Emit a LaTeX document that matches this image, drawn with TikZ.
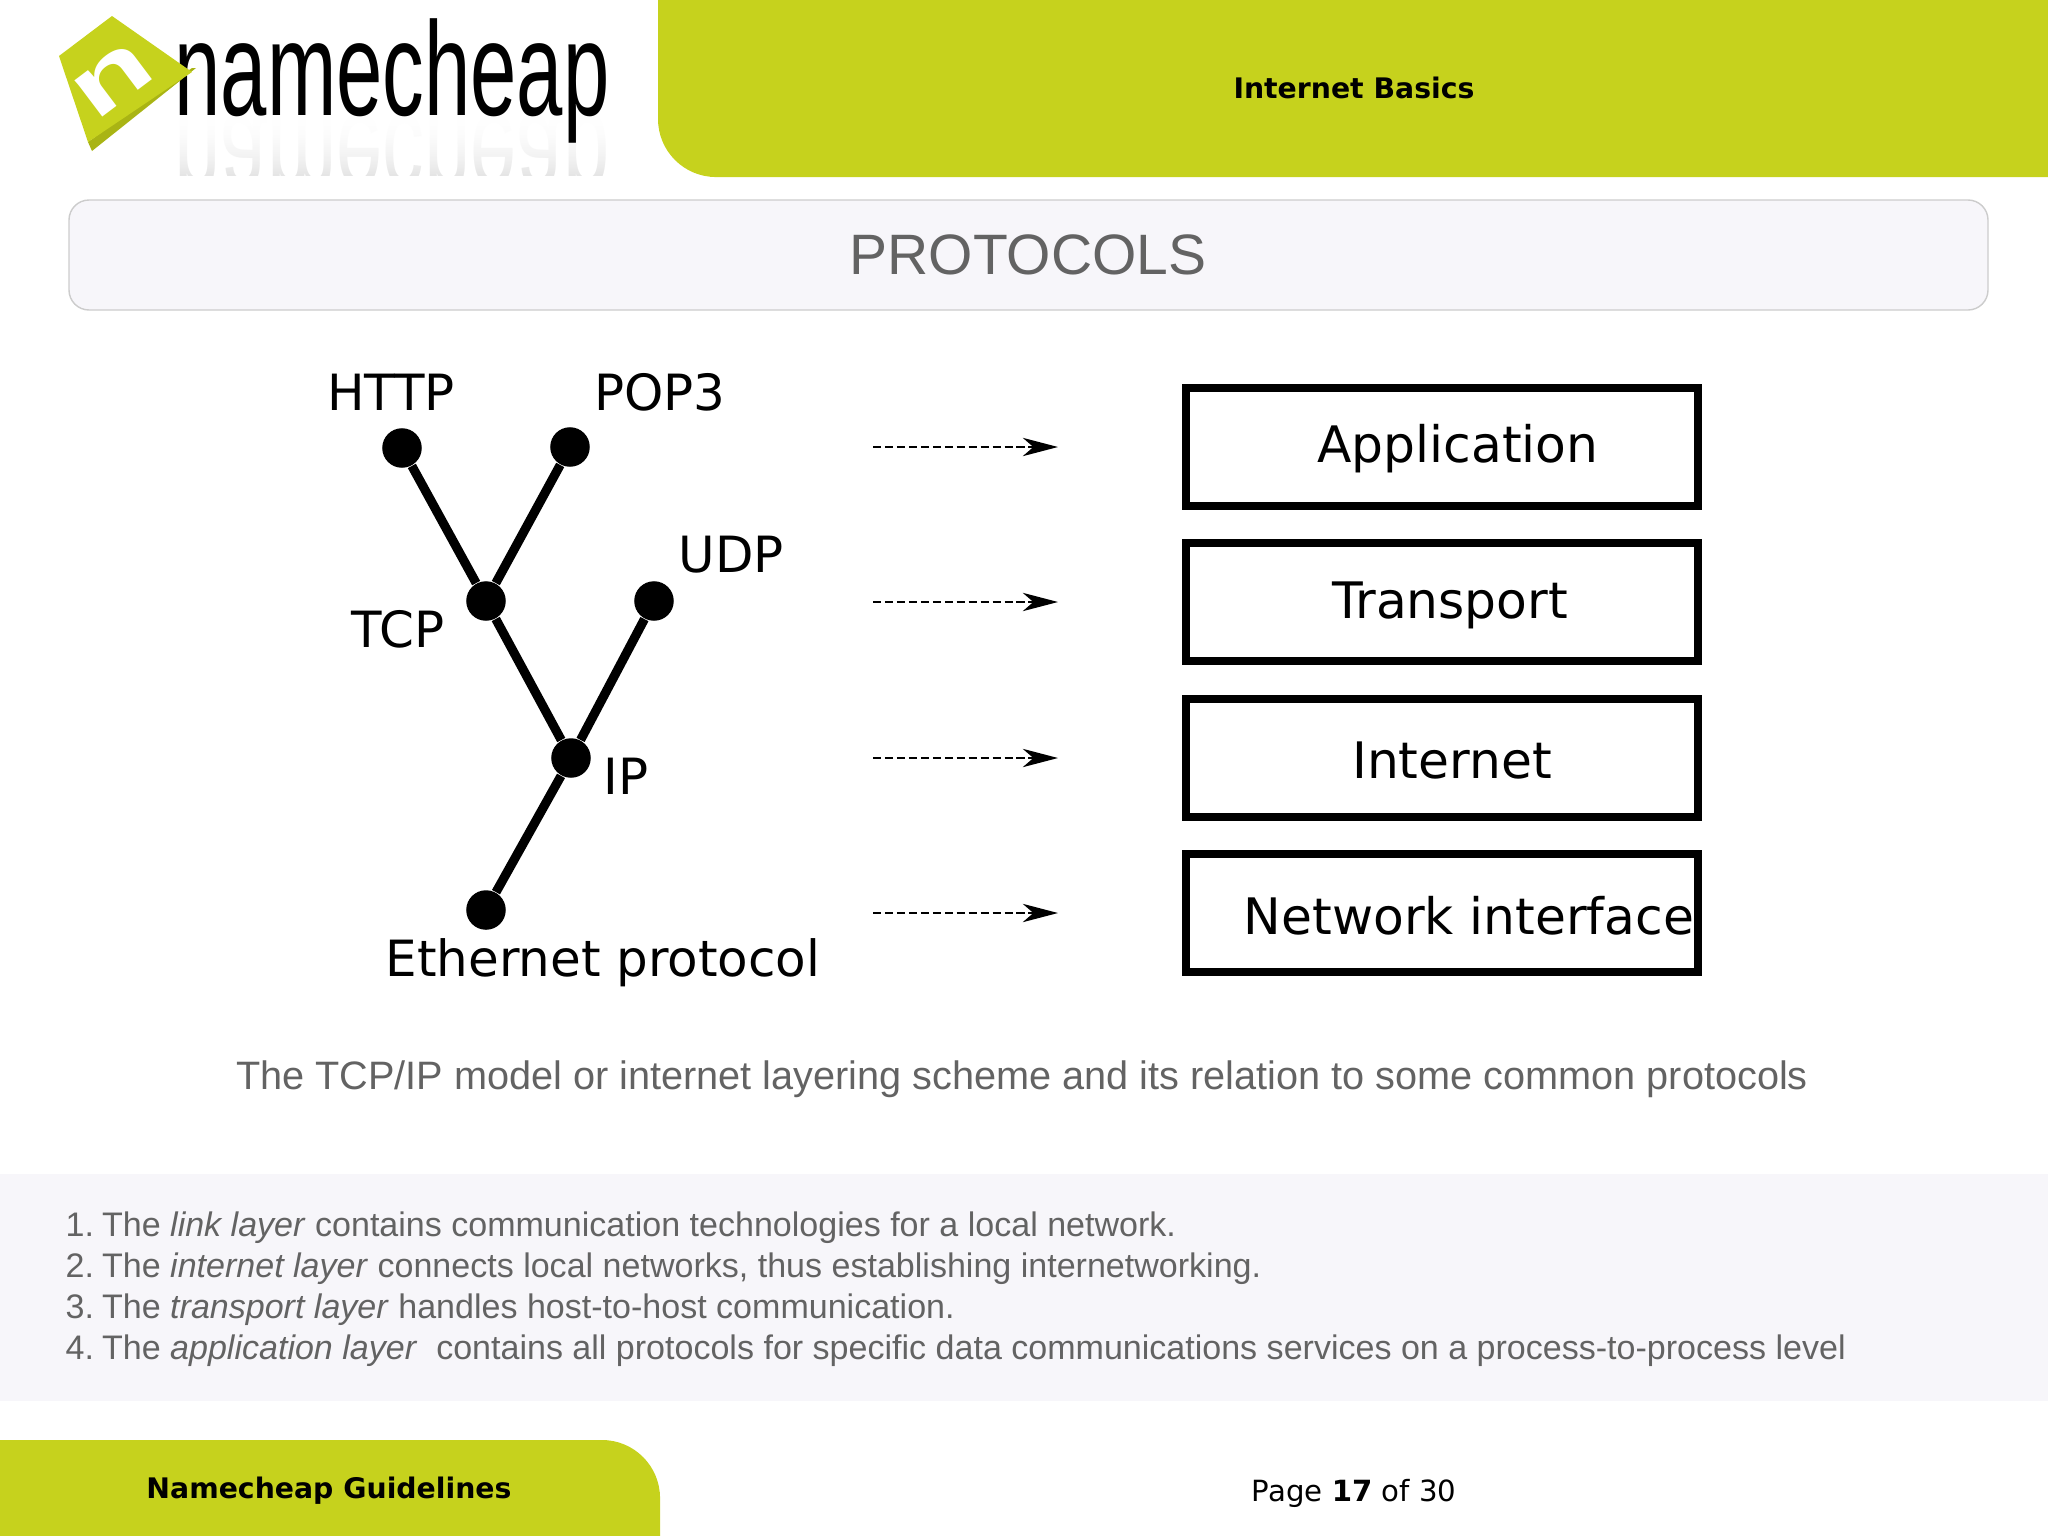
\documentclass[tikz,border=0pt]{standalone}
\usepackage{fontspec}
\setmainfont{Liberation Sans}
\newfontfamily\dejavu{DejaVu Sans}
\usetikzlibrary{arrows.meta,fadings}
\definecolor{leaf}{HTML}{C6D21D}
\definecolor{leafdark}{HTML}{A9B414}
\definecolor{panel}{HTML}{F7F6FA}
\definecolor{slate}{HTML}{636363}
\tikzset{
    dotnode/.style={circle, fill=black, minimum size=0.395cm, inner sep=0pt},
    treeline/.style={line width=2.6pt},
    treetext/.style={font=\dejavu\fontsize{14.2}{16}\selectfont, inner sep=0pt},
    layerbox/.style={draw, line width=2.4pt, minimum width=5.12cm, minimum height=1.18cm, inner sep=0pt},
    layertext/.style={font=\dejavu\fontsize{14.3}{16}\selectfont, inner sep=0pt},
    layerarrow/.style={line width=0.7pt, dash pattern=on 2.4pt off 1pt, -{Stealth[length=10pt, width=5.2pt, inset=3pt]}},
    bodytext/.style={font=\fontsize{9.68}{12}\selectfont, text=slate, inner sep=0pt, anchor=base west},
    headtext/.style={font=\dejavu\bfseries\fontsize{8.05}{10}\selectfont, inner sep=0pt}
}

\begin{document}
\begin{tikzpicture}[x=0.01cm, y=-0.01cm]
    \useasboundingbox (0, 0) rectangle (2048, 1536);

    % header and footer
    \fill [leaf] (658, 0) -- (658, 119) arc [start angle=180, end angle=270, radius=0.58cm] -- (2048, 177) -- (2048, 0) -- cycle;
    \fill [leaf] (0, 1440) -- (602, 1440) arc [start angle=90, end angle=0, radius=0.58cm] -- (660, 1536) -- (0, 1536) -- cycle;
    \node [headtext] (basics) at (1354, 88) {Internet Basics};
    \node [headtext] (guide) at (329, 1491) {Namecheap Guidelines};
    \node [font=\dejavu\fontsize{8.3}{10}\selectfont, inner sep=0pt] (page) at (1354, 1493) {Page \textbf{17} of 30};

    % logo
    \node [anchor=base west, inner sep=0pt, xscale=0.623, yscale=-1, text=black!10, font=\fontsize{38}{40}\selectfont] (mirror) at (174, 115) {namecheap};
    \fill [white, path fading=south] (170, 113) rectangle (620, 176);
    \fill [white, path fading=south] (170, 113) rectangle (620, 176);
    \fill [white] (170, 176) rectangle (620, 200);
    \node [anchor=base west, inner sep=0pt, xscale=0.623, font=\fontsize{38}{40}\selectfont] (brand) at (174, 115) {namecheap};
    \fill [leafdark] (192, 68) -- (196, 68) -- (92, 151) -- (88, 142) -- cycle;
    \fill [leaf] (112, 16) -- (192, 72) -- (88, 142) -- (59, 56) -- cycle;
    \node [white, rotate=37, xscale=1.5, font=\bfseries\fontsize{24.6}{25}\selectfont, inner sep=0pt] (mark) at (113, 80) {n};

    % title
    \draw [draw=black!20, fill=panel, rounded corners=0.2cm, line width=0.4pt] (69, 200) rectangle (1988, 310);
    \node [text=slate, font=\fontsize{16.2}{18}\selectfont, inner sep=0pt] (title) at (1028, 255) {PROTOCOLS};

    % tree
    \node [dotnode] (http) at (402, 448) {};
    \node [dotnode] (pop) at (570, 447) {};
    \node [dotnode] (tcp) at (486, 601) {};
    \node [dotnode] (udp) at (654, 601) {};
    \node [dotnode] (ip) at (571, 758) {};
    \node [dotnode] (eth) at (486, 910) {};
    \draw [treeline] (http) -- (tcp);
    \draw [treeline] (pop) -- (tcp);
    \draw [treeline] (tcp) -- (ip);
    \draw [treeline] (udp) -- (ip);
    \draw [treeline] (ip) -- (eth);
    \node [treetext] (httptext) at (391, 392) {HTTP};
    \node [treetext] (poptext) at (660, 392) {POP3};
    \node [treetext] (udptext) at (731, 555) {UDP};
    \node [treetext] (tcptext) at (398, 629) {TCP};
    \node [treetext] (iptext) at (626, 776) {IP};
    \node [treetext] (ethtext) at (603, 963) {Ethernet protocol};

    % arrows
    \coordinate (appfrom) at (873, 447);
    \coordinate (appto) at (1058, 447);
    \coordinate (trafrom) at (873, 602);
    \coordinate (trato) at (1058, 602);
    \coordinate (intfrom) at (873, 758);
    \coordinate (intto) at (1058, 758);
    \coordinate (netfrom) at (873, 913);
    \coordinate (netto) at (1058, 913);
    \draw [layerarrow] (appfrom) -- (appto);
    \draw [layerarrow] (trafrom) -- (trato);
    \draw [layerarrow] (intfrom) -- (intto);
    \draw [layerarrow] (netfrom) -- (netto);

    % layers
    \node [layerbox] (appbox) at (1442, 447) {};
    \node [layerbox] (trabox) at (1442, 602) {};
    \node [layerbox] (intbox) at (1442, 758) {};
    \node [layerbox] (netbox) at (1442, 913) {};
    \node [layertext] (apptext) at (1458, 449) {Application};
    \node [layertext] (tratext) at (1450, 605) {Transport};
    \node [layertext] (inttext) at (1452, 761) {Internet};
    \node [layertext] (nettext) at (1469, 916) {Network interface};

    % caption and notes
    \node [text=slate, font=\fontsize{11.28}{13}\selectfont, inner sep=0pt] (caption) at (1022, 1079) {The TCP/IP model or internet layering scheme and its relation to some common protocols};
    \fill [panel] (0, 1174) rectangle (2048, 1401);
    \node [bodytext] (noteone) at (65, 1236) {1.\hspace{0.235em}The \textit{link layer} contains communication technologies for a local network.};
    \node [bodytext] (notetwo) at (65, 1277) {2.\hspace{0.235em}The \textit{internet layer} connects local networks, thus establishing internetworking.};
    \node [bodytext] (notethree) at (65, 1318) {3.\hspace{0.235em}The \textit{transport layer} handles host-to-host communication.};
    \node [bodytext] (notefour) at (65, 1359) {4.\hspace{0.235em}The \textit{application layer}\ \ contains all protocols for specific data communications services on a process-to-process level};
\end{tikzpicture}
\end{document}
